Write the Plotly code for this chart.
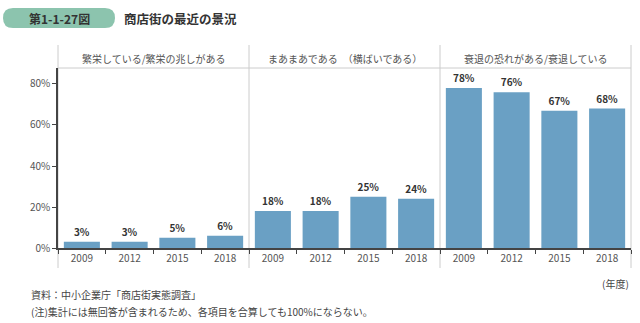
import plotly.graph_objects as go

years = ["2009", "2012", "2015", "2018"]
groups = ["繁栄している/繁栄の兆しがある", "まあまあである　（横ばいである）", "衰退の恐れがある/衰退している"]
values_prosper = [3, 3, 5, 6]
values_flat = [18, 18, 25, 24]
values_decline = [78, 76, 67, 68]
series = [values_prosper, values_flat, values_decline]
yticks = [0, 20, 40, 60, 80]

W, H = 640, 323
ML, MR, MT, MB = 58, 9, 68, 75
PW, PH = W - ML - MR, H - MT - MB

def px(x):
    return (x - ML) / PW

def py(y):
    return (H - MB - y) / PH

BAR = "#6aa0c4"
FONT = "Noto Sans CJK JP"
fig = go.Figure()
axes = ["x", "x2", "x3"]
for i, (vals, ax) in enumerate(zip(series, axes)):
    fig.add_trace(go.Bar(
        x=years, y=vals, xaxis=ax, yaxis="y",
        marker=dict(color=BAR, line=dict(width=0)),
        text=[f"<b>{v}%</b>" for v in vals], textposition="outside",
        textfont=dict(size=10, color="#333333", family=FONT),
        cliponaxis=False, showlegend=False, hoverinfo="skip",
    ))

xcommon = dict(type="category", showline=True, linecolor="#444444", linewidth=1.5,
               ticks="outside", tickson="boundaries", ticklen=4, tickcolor="#444444",
               tickfont=dict(size=10, color="#555555", family=FONT),
               showgrid=False, zeroline=False, fixedrange=True)
layout = dict(
    width=W, height=H, margin=dict(l=ML, r=MR, t=MT, b=MB),
    paper_bgcolor="white", plot_bgcolor="white",
    bargap=0.245,
    xaxis=dict(domain=[0, 1/3], anchor="y", **xcommon),
    xaxis2=dict(domain=[1/3, 2/3], anchor="y", **xcommon),
    xaxis3=dict(domain=[2/3, 1], anchor="y", **xcommon),
    yaxis=dict(range=[0, 87.8], tickvals=yticks, ticktext=[f"{v}%" for v in yticks],
               showline=True, linecolor="#444444", linewidth=1.5, ticks="outside",
               ticklen=4, tickcolor="#444444", showgrid=False, zeroline=False,
               tickfont=dict(size=10, color="#555555", family=FONT), fixedrange=True),
    font=dict(family=FONT),
)
fig.update_layout(**layout)

shapes = []
shapes.append(dict(type="line", xref="paper", yref="paper", x0=0, x1=1, y0=1, y1=1,
                   line=dict(color="#cccccc", width=1)))
for xp in [0, 1/3, 2/3, 1]:
    shapes.append(dict(type="line", xref="paper", yref="paper", x0=xp, x1=xp,
                       y0=py(268), y1=py(45), line=dict(color="#cccccc", width=1), layer="below"))
x0, x1, y0, y1, r = 3, 115, 8, 28, 10
path = (f"M {px(x0+r)},{py(y0)} L {px(x1-r)},{py(y0)} Q {px(x1)},{py(y0)} {px(x1)},{py(y0+r)} "
        f"Q {px(x1)},{py(y1)} {px(x1-r)},{py(y1)} L {px(x0+r)},{py(y1)} "
        f"Q {px(x0)},{py(y1)} {px(x0)},{py(y1-r)} Q {px(x0)},{py(y0)} {px(x0+r)},{py(y0)} Z")
shapes.append(dict(type="path", xref="paper", yref="paper", path=path,
                   fillcolor="#8cc4ae", line=dict(width=0)))
fig.update_layout(shapes=shapes)

def note(x, y, text, size=10, color="#444444", xanchor="center"):
    return dict(x=px(x), y=py(y), xref="paper", yref="paper", text=text,
                xanchor=xanchor, yanchor="middle", showarrow=False,
                font=dict(size=size, color=color, family=FONT))

ann = []
for i, g in enumerate(groups):
    ann.append(note(ML + (i + 0.5) * PW / 3, 58, g, size=10, color="#555555"))
ann.append(note(59, 18, "<b>第1-1-27図</b>", size=12, color="#333333"))
ann.append(note(122, 18, "<b>商店街の最近の景況</b>", size=12.5, color="#333333", xanchor="left"))
ann.append(note(631, 283, "(年度)", xanchor="right"))
ann.append(note(29, 294, "資料：中小企業庁「商店街実態調査」", xanchor="left"))
ann.append(note(29, 311, "(注)集計には無回答が含まれるため、各項目を合算しても100%にならない。", xanchor="left"))
fig.update_layout(annotations=ann)

fig.write_html("out.html")
